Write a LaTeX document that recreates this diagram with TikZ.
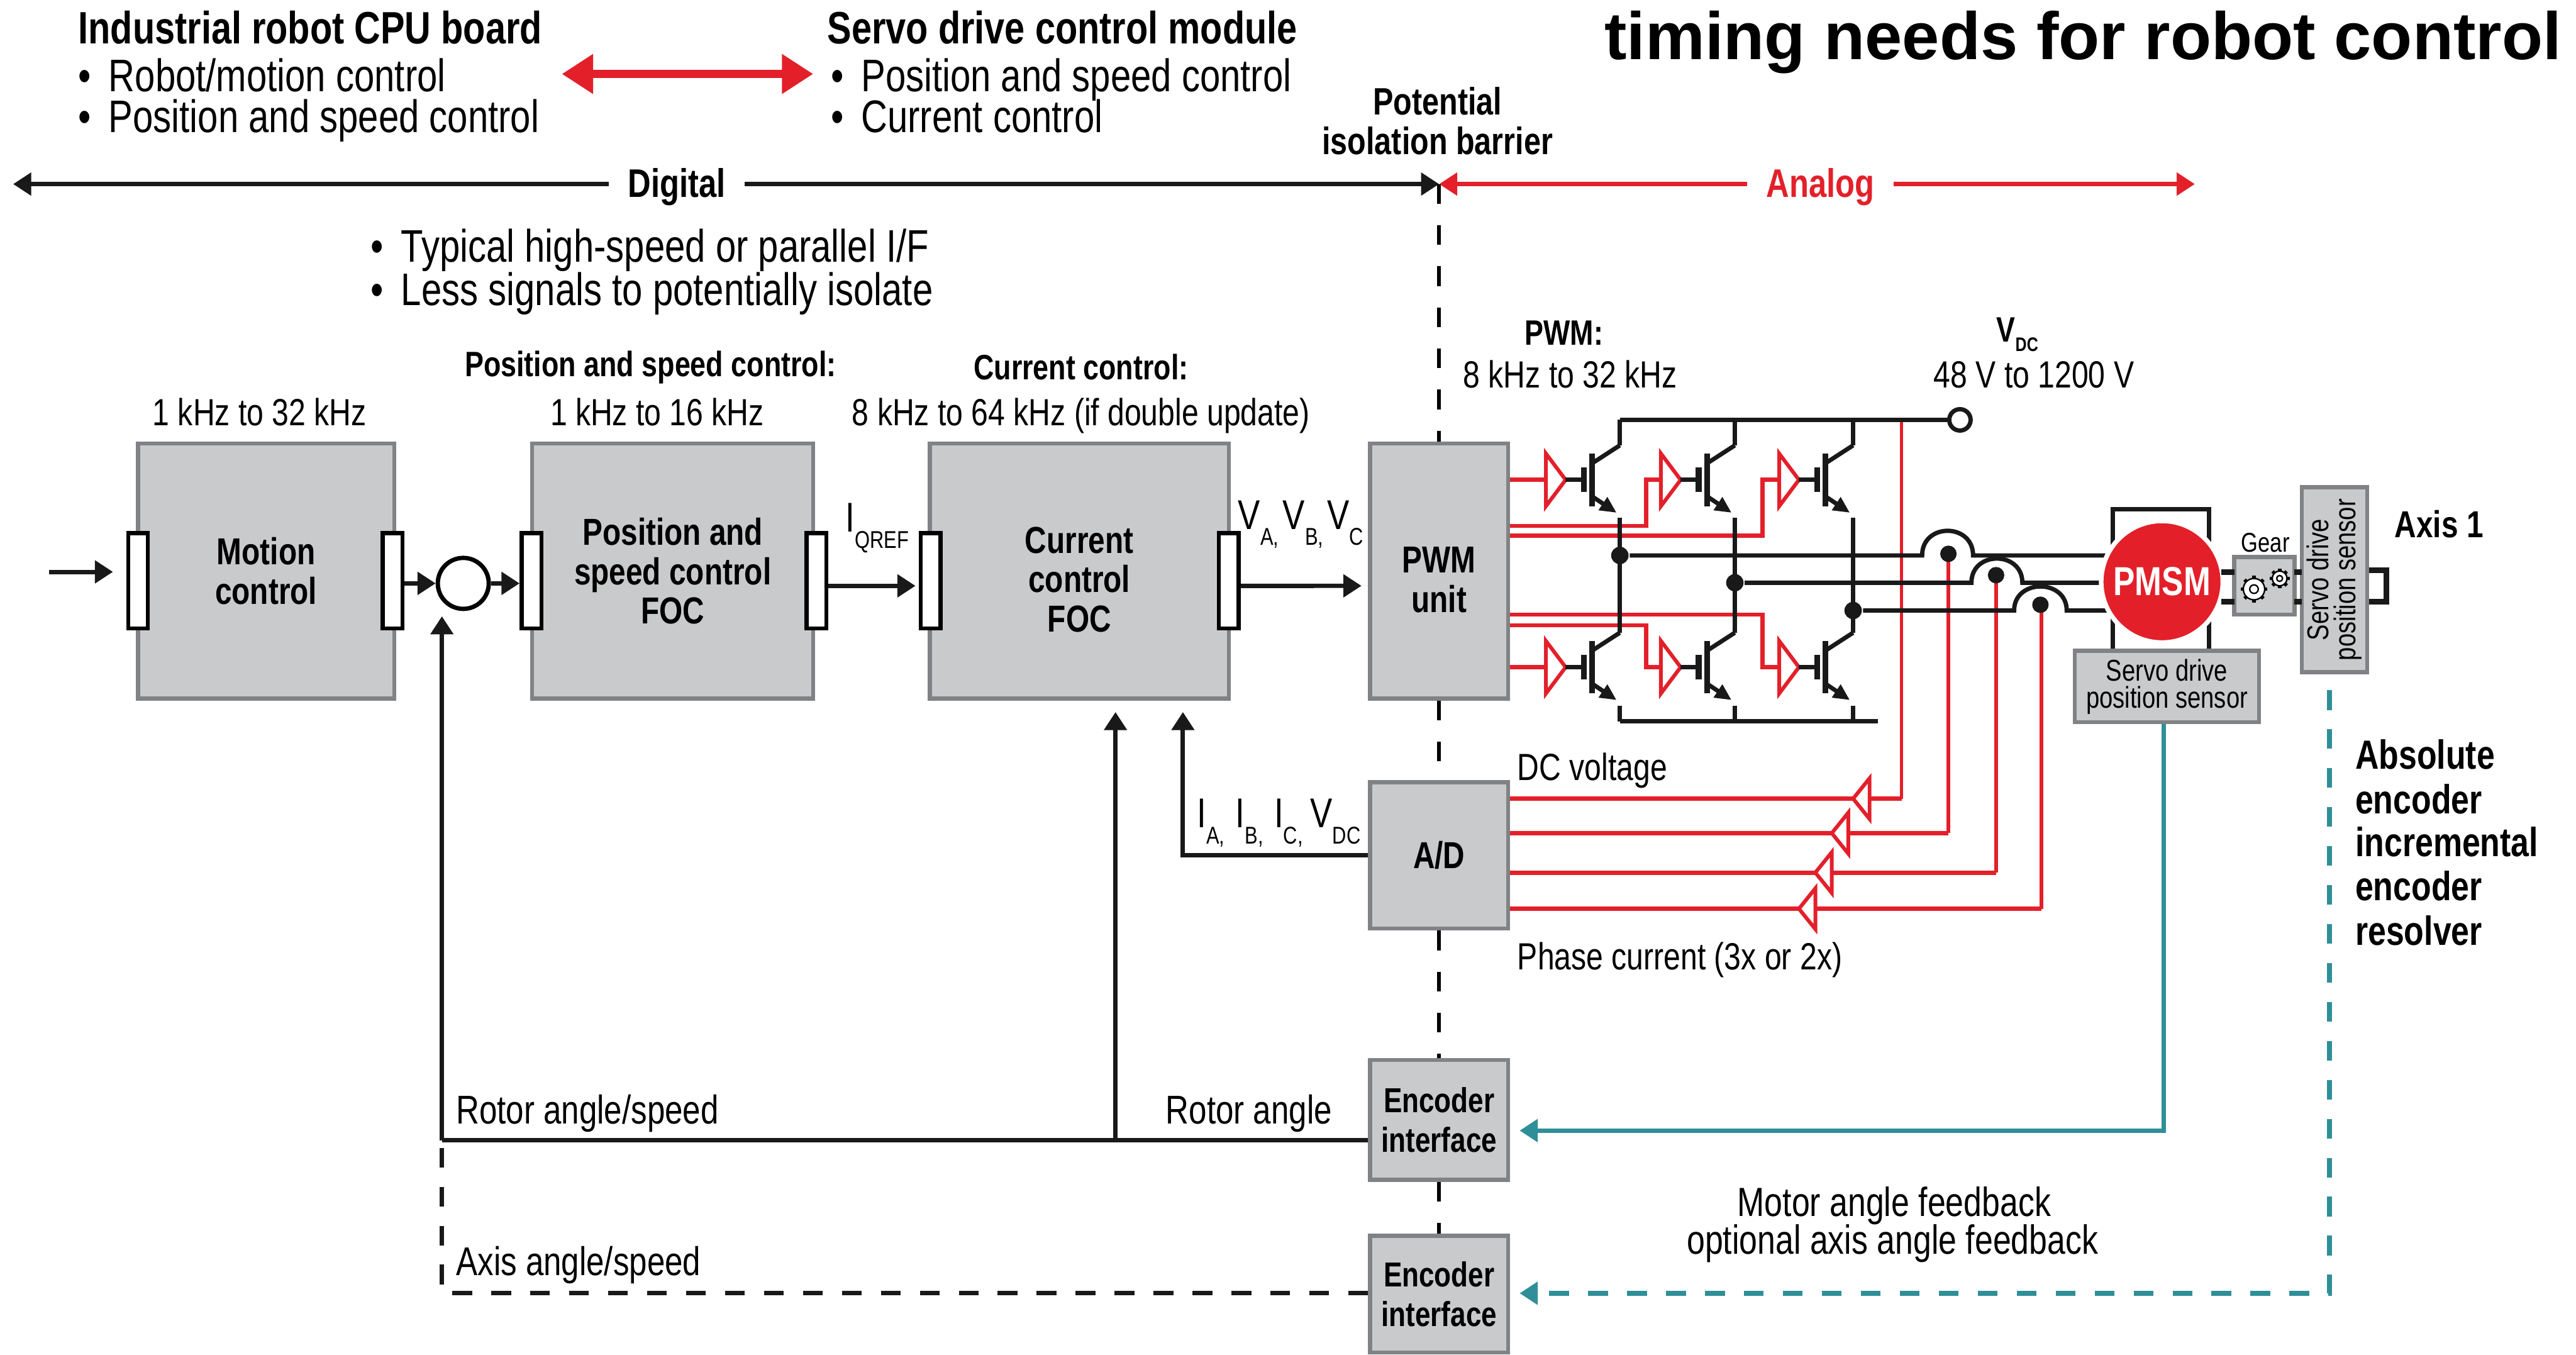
\documentclass[tikz,border=0pt]{standalone}
\usepackage{fontspec}
\setmainfont{Liberation Sans}[FakeStretch=0.8]
\newfontfamily\titlefont{Liberation Sans}
\usetikzlibrary{arrows.meta, positioning, calc}

\definecolor{boxfill}{HTML}{C9CACC}
\definecolor{boxedge}{HTML}{808285}
\definecolor{servored}{HTML}{E3202A}
\definecolor{fbteal}{HTML}{2F8F98}

\newcommand{\itm}[1]{\makebox[1.85mm][l]{\textbullet}#1}
\newcommand{\lowidx}[1]{\raisebox{-2.8pt}{\fontsize{4.2}{4.2}\selectfont #1}}
\newcommand{\boldidx}[1]{\raisebox{-1.6pt}{\fontsize{3.4}{3.4}\selectfont #1}}

\tikzset{
    sigtip/.tip={Triangle[length=1.1mm,width=1.35mm]},
    bigtip/.tip={Triangle[length=1.9mm,width=2.3mm]},
    wire/.style={line width=0.75pt, black!90},
    sig/.style={wire, -sigtip},
    red wire/.style={line width=0.6pt, servored},
    red bus/.style={line width=0.75pt, servored},
    drv/.style={line width=0.65pt, servored, fill=white},
    fb/.style={line width=0.8pt, fbteal, -sigtip},
    barrier/.style={line width=0.65pt, black, dash pattern=on 1.2mm off 1.3mm},
    block/.style={draw=boxedge, fill=boxfill, line width=0.7pt, inner sep=0pt, align=center,
        font=\fontsize{6.5}{6.8}\bfseries\selectfont},
    small block/.style={block, font=\fontsize{5.2}{4.7}\selectfont},
    enc block/.style={block, minimum width=8.4mm, font=\fontsize{6}{6.8}\bfseries\selectfont},
    port/.style={draw=black, fill=white, line width=0.7pt, inner sep=0pt,
        minimum width=1.2mm, minimum height=5.8mm},
    lbl/.style={inner sep=0pt, anchor=base west, font=\fontsize{6.55}{6.8}\selectfont},
    lblc/.style={lbl, anchor=base},
    wide lbl/.style={lbl, font=\fontsize{6.95}{7}\selectfont},
    widec lbl/.style={lblc, font=\fontsize{7.05}{7}\selectfont},
    sym lbl/.style={lbl, font=\fontsize{7.2}{7.2}\selectfont},
    lst/.style={lbl, font=\fontsize{7.9}{7.9}\selectfont},
    head/.style={lbl, font=\fontsize{7.85}{7.85}\bfseries\selectfont},
    side head/.style={lbl, font=\fontsize{7.05}{7}\bfseries\selectfont},
    sub head/.style={lblc, font=\fontsize{6.6}{6.8}\bfseries\selectfont},
    rate head/.style={lblc, font=\fontsize{6.1}{6.8}\bfseries\selectfont},
    dot/.style={circle, fill=black!90, inner sep=0pt, minimum size=1mm},
}

\newcommand{\igbtcell}[2]{%
    \begin{scope}[shift={(#1,#2)}]
        \draw[drv] (-45,-16) -- (-33,0) -- (-45,16) -- cycle;
        \draw[wire] (-33,0) -- (-22,0);
        \draw[wire, line width=1pt] (-22,-7.5) -- (-22,7.5);
        \draw[wire, line width=1pt] (-17,-16) -- (-17,16);
        \draw[wire] (-17,-10) -- (0,-21);
        \draw[wire, -{Triangle[length=1mm,width=0.9mm]}] (-17,10) -- (-2,20);
    \end{scope}}

\newcommand{\gearicon}[3]{%
    \fill[white] (#1,#2) circle [radius=#3];
    \draw[black, line width=0.25pt] (#1,#2) circle [radius=#3];
    \draw[black, line width=0.25pt] (#1,#2) circle [radius=#3*0.4];
    \foreach \a in {0,45,...,315}
        \draw[black, line width=0.6pt] (#1,#2) ++(\a:#3) -- ++(\a:1.6);}

\begin{document}
\begin{tikzpicture}[x=0.01cm, y=-0.01cm]
    \useasboundingbox (0,0) rectangle (1568,824.2);

    \node[head] (cpuHead) at (47,26.6) {Industrial robot CPU board};
    \node[lst] (cpuA) at (47,55.8) {\itm{Robot/motion control}};
    \node[lst] (cpuB) at (47,80.5) {\itm{Position and speed control}};
    \node[head] (servoHead) at (503,26.6) {Servo drive control module};
    \node[lst] (servoA) at (505,55.8) {\itm{Position and speed control}};
    \node[lst] (servoB) at (505,80.5) {\itm{Current control}};
    \node[inner sep=0pt, anchor=base west, font=\fontsize{11.6}{12}\titlefont\bfseries] (title) at (976,36) {timing needs for robot control};

    \coordinate (linkL) at (342,45);
    \coordinate (linkR) at (495,45);
    \draw[line width=1.4pt, servored, bigtip-bigtip] (linkL) -- (linkR);

    \node[sub head] (isoA) at (875,70) {Potential};
    \node[sub head] (isoB) at (875,94) {isolation barrier};

    \coordinate (digL) at (8,112);
    \coordinate (midT) at (876,112);
    \coordinate (anaR) at (1336,112);
    \node[sub head, font=\fontsize{6.9}{6.8}\bfseries\selectfont, inner xsep=1.1mm] (digital) at (412,120) {Digital};
    \node[sub head, font=\fontsize{6.9}{6.8}\bfseries\selectfont, inner xsep=1.1mm, text=servored] (analog) at (1108,120) {Analog};
    \draw[sig] (digital.west |- digL) -- (digL);
    \draw[sig] (digital.east |- digL) -- (midT);
    \draw[red bus, -sigtip] (analog.west |- midT) -- (midT);
    \draw[red bus, -sigtip] (analog.east |- midT) -- (anaR);

    \node[lst] (ifA) at (225,159.4) {\itm{Typical high-speed or parallel I/F}};
    \node[lst] (ifB) at (225,186) {\itm{Less signals to potentially isolate}};

    \node[lblc] (rateM) at (158,259) {1 kHz to 32 kHz};
    \node[rate head] (headP) at (396,229) {Position and speed control:};
    \node[lblc] (rateP) at (400,259) {1 kHz to 16 kHz};
    \node[rate head] (headC) at (658,231) {Current control:};
    \node[lblc] (rateC) at (658,259) {8 kHz to 64 kHz (if double update)};
    \node[rate head] (headW) at (952,210) {PWM:};
    \node[lbl] (rateW) at (890,236) {8 kHz to 32 kHz};
    \node[rate head] (headV) at (1228,208) {V\boldidx{DC}};
    \node[lblc] (rateV) at (1238,236) {48 V to 1200 V};

    \node[block, minimum width=15.6mm, minimum height=15.5mm] (motion) at (162,347.5) {Motion\\control};
    \node[block, minimum width=17.1mm, minimum height=15.5mm] (posctl) at (409.5,347.5) {Position and\\speed control\\FOC};
    \node[block, minimum width=18.2mm, minimum height=15.5mm] (curctl) at (657,347.5) {\rule{0pt}{7.5pt}Current\\control\\FOC};
    \node[block, minimum width=8.4mm, minimum height=15.5mm] (pwm) at (876,347.5) {\rule{0pt}{7.5pt}PWM\\unit};
    \node[block, minimum width=8.4mm, minimum height=8.9mm] (adc) at (876,520.5) {A/D};
    \node[enc block, minimum height=7.3mm] (encA) at (876,681.5) {Encoder\\interface};
    \node[enc block, minimum height=7.1mm] (encB) at (876,787.5) {Encoder\\interface};

    \node[port] (mcIn) at (84,353.5) {};
    \node[port] (mcOut) at (239,353.5) {};
    \node[port] (pcIn) at (323.5,353.5) {};
    \node[port] (pcOut) at (497,353.5) {};
    \node[port] (ccIn) at (566.5,353.5) {};
    \node[port] (ccOut) at (748,353.5) {};
    \node[circle, draw=black, fill=white, line width=0.75pt, inner sep=0pt, minimum size=3.1mm] (sum) at (282,355) {};

    \coordinate (start) at (30,348);
    \coordinate (fbA) at (269,694);
    \coordinate (fbB) at (679,694);
    \coordinate (sumIn) at (269,375);
    \coordinate (axisC) at (269,787);
    \draw[sig, shorten >=0.8mm] (start) -- (mcIn.west |- start);
    \draw[sig] (mcOut.east |- sum) -- (sum);
    \draw[sig] (sum) -- (pcIn.west |- sum);
    \draw[sig, shorten >=0.2mm] ([yshift=-0.3mm]pcOut.east) -- ([yshift=-0.3mm]ccIn.west);
    \draw[sig, shorten >=0.4mm] ([yshift=-0.3mm]ccOut.east) -- (pwm.west |- 0,356.5);
    \draw[wire] (encA.west |- fbA) -- (fbA);
    \draw[sig] (fbA) -- (sumIn);
    \draw[sig, shorten >=0.7mm] (fbB) -- (fbB |- curctl.south);
    \draw[sig, shorten >=0.7mm] (adc.west) -| ([xshift=6.3mm]curctl.south);
    \draw[wire, dash pattern=on 1.2mm off 1.17mm] (encB.west |- axisC) -| (fbA);

    \draw[barrier] (midT) -- (pwm.north);
    \draw[barrier] (pwm.south) -- (adc.north);
    \draw[barrier] (adc.south) -- (encA.north);
    \draw[barrier] (encA.south) -- (encB.north);

    \node[sym lbl] (iq) at (514,323.6) {I\lowidx{QREF}};
    \node[sym lbl] (vabc) at (753,322) {V\lowidx{A,}\hspace{0.7pt}V\lowidx{B,}\hspace{0.7pt}V\lowidx{C}};
    \node[sym lbl] (iabc) at (728,503.5) {I\lowidx{A,}\hspace{1.9pt}I\lowidx{B,}\hspace{1.9pt}I\lowidx{C,}\hspace{1.3pt}V\lowidx{DC}};
    \node[wide lbl] (rotorSpeed) at (277,684) {Rotor angle/speed};
    \node[wide lbl] (rotorAngle) at (709,684) {Rotor angle};
    \node[wide lbl] (axisSpeed) at (277,776) {Axis angle/speed};
    \node[lbl] (dcV) at (923,475) {DC voltage};
    \node[lbl] (phase) at (923,590) {Phase current (3x or 2x)};
    \node[widec lbl] (fbTextA) at (1153,740) {Motor angle feedback};
    \node[widec lbl] (fbTextB) at (1152,763) {optional axis angle feedback};

    \draw[red bus] (pwm.east |- 0,292) -- (941,292);
    \draw[red bus] (pwm.east |- 0,320) -- (1002,320) -- (1002,292) -- (1011,292);
    \draw[red bus] (pwm.east |- 0,326) -- (1073,326) -- (1073,292) -- (1083,292);
    \draw[red bus] (pwm.east |- 0,406) -- (941,406);
    \draw[red bus] (pwm.east |- 0,380.5) -- (1002,380.5) -- (1002,406) -- (1011,406);
    \draw[red bus] (pwm.east |- 0,374) -- (1073,374) -- (1073,406) -- (1083,406);

    \foreach \ys/\xs/\ya/\tp in {255.5/1157.5/486/1128, 337/1186/507/1115, 350/1215/531/1105, 368/1242.7/553/1095} {
        \draw[red bus] (adc.east |- 0,\ya) -- (\tp,\ya);
        \draw[red bus] (\tp+10,\ya) -- (\xs,\ya);
        \draw[red wire] (\xs,\ys) -- (\xs,\ya);
        \draw[drv, fill=none] (\tp,\ya) -- (\tp+10,\ya-12.4) -- (\tp+10,\ya+12.4) -- cycle;
    }

    \node[circle, draw=black!90, fill=white, line width=0.75pt, inner sep=0pt, minimum size=1.3mm] (vdc) at (1193,255.5) {};
    \coordinate (railT) at (986,255.5);
    \coordinate (railB) at (986,439);
    \coordinate (railE) at (1143,439);
    \draw[wire] (railT) -- (vdc);
    \draw[wire] (railB) -- (railE);
    \foreach \legx in {986,1056,1128} {
        \igbtcell{\legx}{292}
        \igbtcell{\legx}{406}
        \draw[wire] (\legx,255.5) -- (\legx,271);
        \draw[wire] (\legx,315) -- (\legx,385);
        \draw[wire] (\legx,429.5) -- (\legx,439);
    }
    \node[dot, minimum size=1.06mm] (jA) at (986,338) {};
    \node[dot, minimum size=1.06mm] (jB) at (1056,354.6) {};
    \node[dot, minimum size=1.06mm] (jC) at (1128,371.5) {};
    \node[dot] (csA) at (1186,337) {};
    \node[dot] (csB) at (1215,350) {};
    \node[dot] (csC) at (1242,368) {};

    \draw[wire] (jA) -- (1170,338) .. controls (1170,318) and (1201,318) .. (1201,338) -- (1285,338);
    \draw[wire] (jB) -- (1200,354.6) .. controls (1200,335) and (1231,335) .. (1231,354.6) -- (1285,354.6);
    \draw[wire] (jC) -- (1226,371.5) .. controls (1226,352) and (1258,352) .. (1258,371.5) -- (1285,371.5);

    \draw[wire] (1286,396) -- (1286,310) -- (1344.5,310) -- (1344.5,396);
    \node[circle, fill=servored, draw=white, line width=0.8pt, inner sep=0pt, minimum size=7.4mm, text=white,
        font=\fontsize{7}{7}\bfseries\selectfont] (pmsm) at (1316,354) {PMSM};

    \node[block, minimum width=3.66mm, minimum height=3.5mm] (gearbox) at (1378.3,356.5) {};
    \node[small block, rotate=90, minimum width=11.25mm, minimum height=4mm] (axs) at (1421,352.75) {Servo drive\\position sensor};
    \node[small block, minimum width=11.2mm, minimum height=4.35mm] (spos) at (1319,417.75) {Servo drive\\position sensor};
    \node[inner sep=0pt, anchor=base, font=\fontsize{4.7}{4.9}\selectfont] (gearLbl) at (1379,336) {Gear};
    \gearicon{1372}{358.5}{6.5}
    \gearicon{1387.6}{352}{4.5}

    \draw[wire, line width=1pt] (1352,348) -- (1360,348) (1352,366) -- (1360,366);
    \draw[wire, line width=1pt] (1396.6,348) -- (1401,348) (1396.6,366) -- (1401,366);
    \draw[wire, line width=1pt] (axs.south |- 0,347) -- (1452.5,347) -- (1452.5,366) -- (axs.south |- 0,366);

    \coordinate (encAin) at (925,688);
    \coordinate (encBin) at (925,787);
    \coordinate (axsOut) at (1418,420);
    \draw[fb] ([xshift=-0.2mm]spos.south) |- (encAin);
    \draw[fb, dash pattern=on 1.2mm off 1.17mm] (axsOut) |- (encBin);

    \node[side head, font=\fontsize{6.5}{6.8}\bfseries\selectfont] (axis) at (1457,327) {Axis 1};
    \node[side head] (absA) at (1433,468) {Absolute};
    \node[side head] (absB) at (1433,495) {encoder};
    \node[side head] (absC) at (1433,521) {incremental};
    \node[side head] (absD) at (1433,548) {encoder};
    \node[side head] (absE) at (1433,575) {resolver};
\end{tikzpicture}
\end{document}
